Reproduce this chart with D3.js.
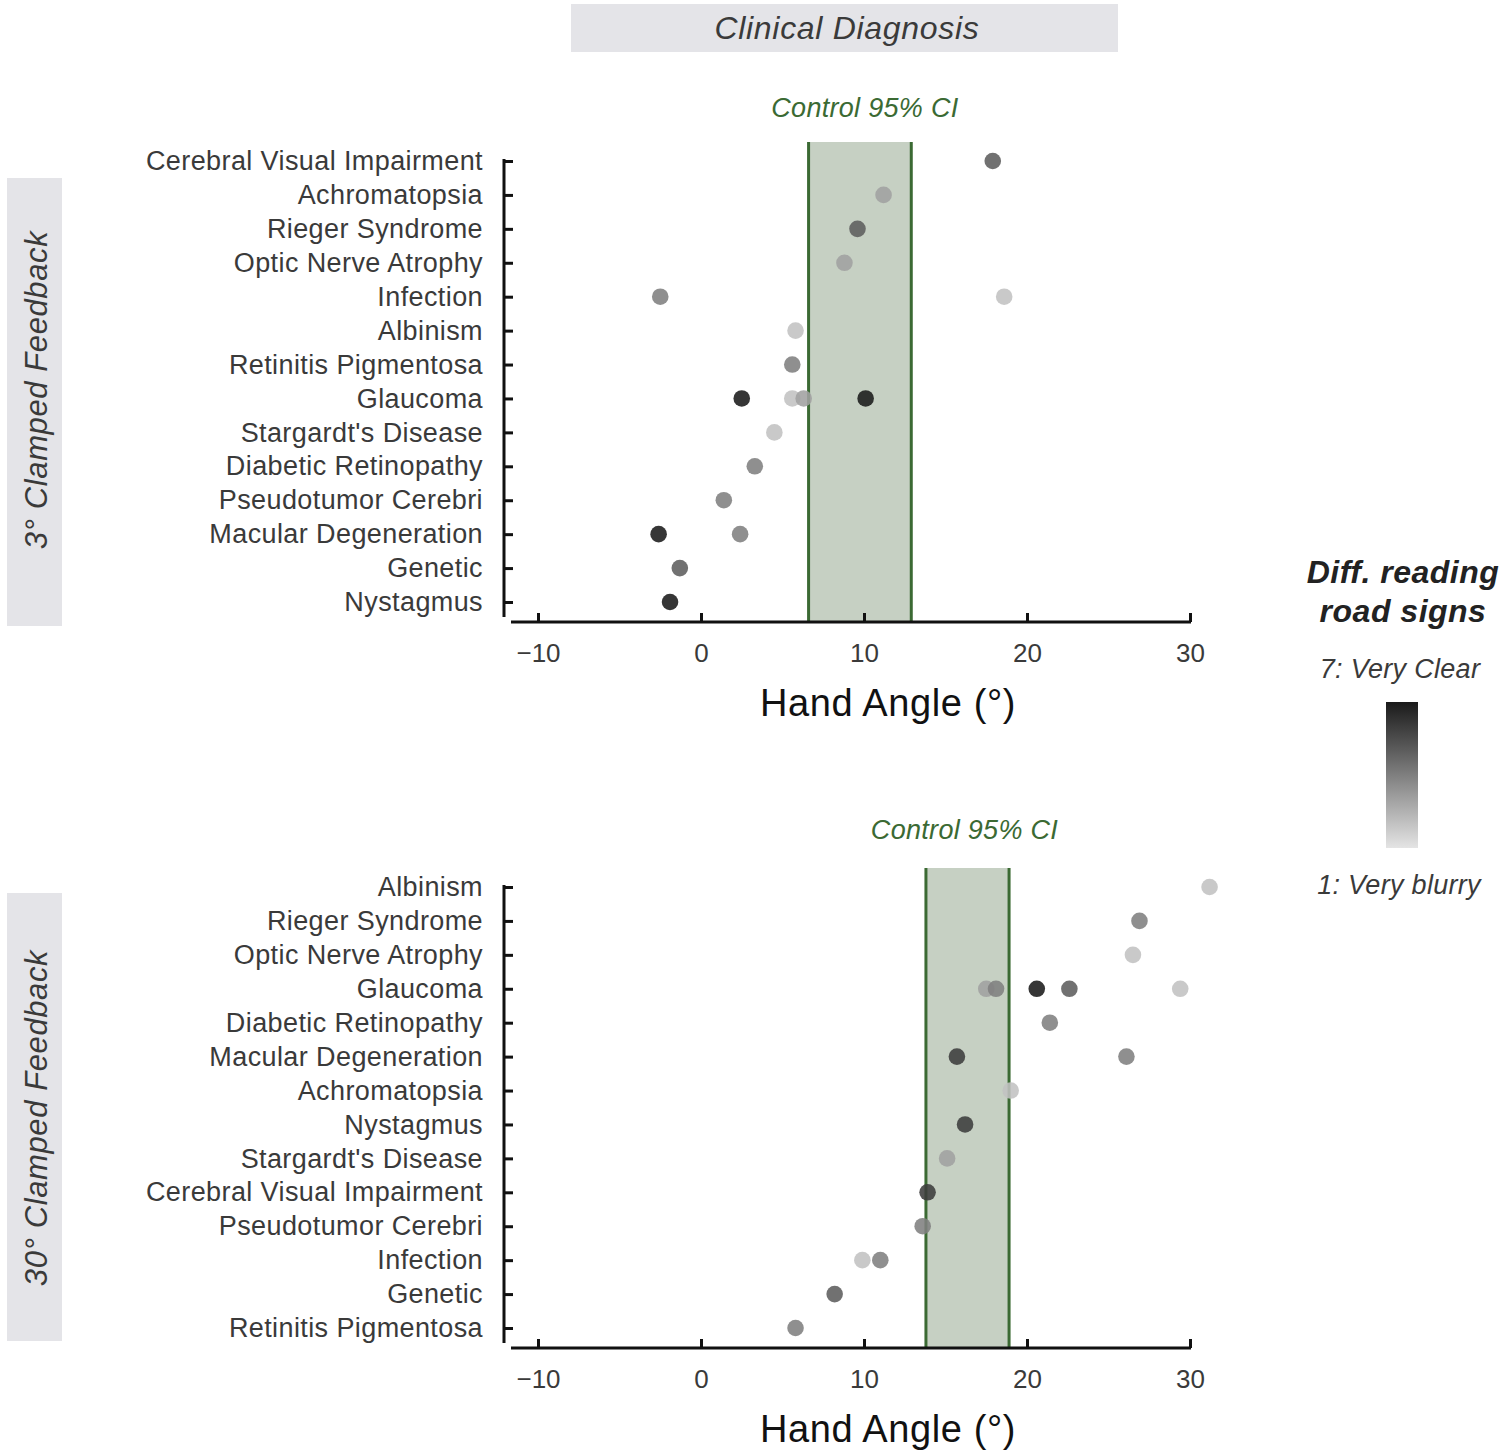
<!DOCTYPE html>
<html><head><meta charset="utf-8">
<script src="https://cdn.jsdelivr.net/npm/d3@7"></script>
<style>body{margin:0;background:#fff}svg{display:block}</style>
</head><body>
<script>
// ---- data ----
const topCategories = ["Cerebral Visual Impairment","Achromatopsia","Rieger Syndrome","Optic Nerve Atrophy","Infection","Albinism","Retinitis Pigmentosa","Glaucoma","Stargardt's Disease","Diabetic Retinopathy","Pseudotumor Cerebri","Macular Degeneration","Genetic","Nystagmus"];
const topDiagnosis = ["Cerebral Visual Impairment","Achromatopsia","Rieger Syndrome","Optic Nerve Atrophy","Infection","Infection","Albinism","Retinitis Pigmentosa","Glaucoma","Glaucoma","Glaucoma","Glaucoma","Stargardt's Disease","Diabetic Retinopathy","Pseudotumor Cerebri","Macular Degeneration","Macular Degeneration","Genetic","Nystagmus"];
const topAngle =     [17.9, 11.2, 9.6, 8.8, -2.5, 18.6, 5.8, 5.6, 2.5, 5.6, 6.3, 10.1, 4.5, 3.3, 1.4, -2.6, 2.4, -1.3, -1.9];
const topRating =    [5,    3,    5,   3,   4,    2,    2,   4,   7,   2,   3,   7,    2,   4,   4,   7,    4,   5,    7];
const topCI = [6.6, 12.9];

const botCategories = ["Albinism","Rieger Syndrome","Optic Nerve Atrophy","Glaucoma","Diabetic Retinopathy","Macular Degeneration","Achromatopsia","Nystagmus","Stargardt's Disease","Cerebral Visual Impairment","Pseudotumor Cerebri","Infection","Genetic","Retinitis Pigmentosa"];
const botDiagnosis = ["Albinism","Rieger Syndrome","Optic Nerve Atrophy","Glaucoma","Glaucoma","Glaucoma","Glaucoma","Glaucoma","Diabetic Retinopathy","Macular Degeneration","Macular Degeneration","Achromatopsia","Nystagmus","Stargardt's Disease","Cerebral Visual Impairment","Pseudotumor Cerebri","Infection","Infection","Genetic","Retinitis Pigmentosa"];
const botAngle =     [31.2, 26.9, 26.5, 17.5, 18.1, 20.6, 22.6, 29.4, 21.4, 15.7, 26.1, 19.0, 16.2, 15.1, 13.9, 13.6, 9.9, 11.0, 8.2, 5.8];
const botRating =    [2,    4,    2,    3,    4,    7,    5,    2,    4,    6,    4,    2,    6,    3,    6,    4,    2,   4,    5,   4];
const botCI = [13.8, 18.9];

const xTicks = [-10, 0, 10, 20, 30];
const panelTitles = ["3\u00B0 Clamped Feedback", "30\u00B0 Clamped Feedback"];
const colTitle = "Clinical Diagnosis";
const xTitle = "Hand Angle (\u00B0)";
const ciLabel = "Control 95% CI";
const legendTitle = ["Diff. reading", "road signs"];
const legendEnds = ["7: Very Clear", "1: Very blurry"];
const ratingDomain = [1, 7];

// ---- drawing ----
const W = 1503, H = 1454;
const svg = d3.select("body").append("svg").attr("width", W).attr("height", H);
const FONT = "'Liberation Sans', Arial, sans-serif";
const textCol = "#3a3a3a";
const color = d3.scaleLinear().domain(ratingDomain).range(["#e4e4e4", "#1a1a1a"]);

// column strip
svg.append("rect").attr("x", 571).attr("y", 4).attr("width", 547).attr("height", 48).attr("fill", "#e4e4e8");
svg.append("text").attr("x", 847).attr("y", 28).attr("dy", "0.35em").attr("text-anchor", "middle")
  .attr("font-family", FONT).attr("font-style", "italic").attr("font-size", 32).attr("letter-spacing", 0.7)
  .attr("fill", textCol).text(colTitle);

function panel(offY, cats, diag, ang, rat, ci, title, ciDx, ciDy, stripY, stripTextY) {
  const g = svg.append("g");
  const x = d3.scaleLinear().domain([-10, 30]).range([538, 1190]);
  const y = d3.scalePoint().domain(cats).range([161 + offY, 602 + offY]);
  const axisY = 622 + offY;
  // strip
  g.append("rect").attr("x", 7).attr("y", stripY).attr("width", 55).attr("height", 448).attr("fill", "#e4e4e8");
  g.append("text").attr("transform", `translate(36,${stripTextY}) rotate(-90)`).attr("dy", "0.35em")
    .attr("text-anchor", "middle").attr("font-family", FONT).attr("font-style", "italic")
    .attr("font-size", 31).attr("letter-spacing", 0.6).attr("fill", textCol).text(title);
  // CI band
  g.append("rect").attr("x", x(ci[0])).attr("width", x(ci[1]) - x(ci[0]))
    .attr("y", 142 + offY).attr("height", axisY - 142 - offY).attr("fill", "#c6d0c3");
  ci.forEach(v => g.append("line").attr("x1", x(v)).attr("x2", x(v)).attr("y1", 142 + offY).attr("y2", axisY)
    .attr("stroke", "#3b6a33").attr("stroke-width", 3));
  g.append("text").attr("x", x((ci[0] + ci[1]) / 2) + ciDx).attr("y", 108 + offY + ciDy).attr("dy", "0.35em")
    .attr("text-anchor", "middle").attr("font-family", FONT).attr("font-style", "italic")
    .attr("font-size", 27).attr("letter-spacing", 0.3).attr("fill", "#3b6a33").text(ciLabel);
  // y axis
  const ya = d3.axisLeft(y).tickSizeInner(-9).tickSizeOuter(0).tickPadding(21);
  const yg = g.append("g").attr("transform", "translate(504,0)").call(ya);
  yg.select(".domain").remove();
  yg.selectAll(".tick line").attr("stroke", "#111").attr("stroke-width", 3);
  yg.selectAll(".tick text").attr("font-family", FONT).attr("font-size", 27).attr("letter-spacing", 0.4).attr("fill", textCol);
  g.append("line").attr("x1", 504).attr("x2", 504).attr("y1", 159 + offY).attr("y2", 617 + offY)
    .attr("stroke", "#111").attr("stroke-width", 3);
  // x axis
  const xa = d3.axisBottom(x).tickValues(xTicks).tickSizeInner(-9).tickSizeOuter(0).tickPadding(22);
  const xg = g.append("g").attr("transform", `translate(0,${axisY})`).call(xa);
  xg.select(".domain").remove();
  xg.selectAll(".tick line").attr("stroke", "#111").attr("stroke-width", 3);
  xg.selectAll(".tick text").attr("font-family", FONT).attr("font-size", 26).attr("fill", textCol);
  g.append("line").attr("x1", 511).attr("x2", 1191).attr("y1", axisY).attr("y2", axisY)
    .attr("stroke", "#111").attr("stroke-width", 3);
  g.append("text").attr("x", 888).attr("y", 703 + offY).attr("dy", "0.35em").attr("text-anchor", "middle")
    .attr("font-family", FONT).attr("font-size", 38).attr("letter-spacing", 0.6).attr("fill", "#111").text(xTitle);
  // points
  const pts = diag.map((d, i) => ({ d, v: ang[i], r: rat[i] }));
  g.selectAll("circle.pt").data(pts).enter().append("circle").attr("class", "pt")
    .attr("cx", p => x(p.v)).attr("cy", p => y(p.d)).attr("r", 8.3)
    .attr("fill", p => color(p.r)).attr("fill-opacity", 0.88);
}
panel(0, topCategories, topDiagnosis, topAngle, topRating, topCI, panelTitles[0], 5, 0, 178, 390);
panel(726, botCategories, botDiagnosis, botAngle, botRating, botCI, panelTitles[1], -3, -4, 893, 1118);

// legend
const lg = svg.append("g");
legendTitle.forEach((t, i) => lg.append("text").attr("x", 1403).attr("y", 572 + i * 39).attr("dy", "0.35em")
  .attr("text-anchor", "middle").attr("font-family", FONT).attr("font-style", "italic").attr("font-weight", "bold")
  .attr("font-size", 32).attr("letter-spacing", 0.5).attr("fill", "#222").text(t));
const defs = svg.append("defs");
const grad = defs.append("linearGradient").attr("id", "lgrad").attr("x1", 0).attr("x2", 0).attr("y1", 0).attr("y2", 1);
const ly = d3.scaleLinear().domain([7, 1]).range([0, 1]);
d3.range(7, 0, -1).forEach(r => grad.append("stop").attr("offset", ly(r)).attr("stop-color", color(r)));
lg.append("rect").attr("x", 1386).attr("y", 702).attr("width", 32).attr("height", 146).attr("fill", "url(#lgrad)");
lg.append("text").attr("x", 1400).attr("y", 669).attr("dy", "0.35em").attr("text-anchor", "middle")
  .attr("font-family", FONT).attr("font-style", "italic").attr("font-size", 27).attr("letter-spacing", 0.3).attr("fill", textCol).text(legendEnds[0]);
lg.append("text").attr("x", 1399).attr("y", 885).attr("dy", "0.35em").attr("text-anchor", "middle")
  .attr("font-family", FONT).attr("font-style", "italic").attr("font-size", 27).attr("letter-spacing", 0.3).attr("fill", textCol).text(legendEnds[1]);
</script>
</body></html>
